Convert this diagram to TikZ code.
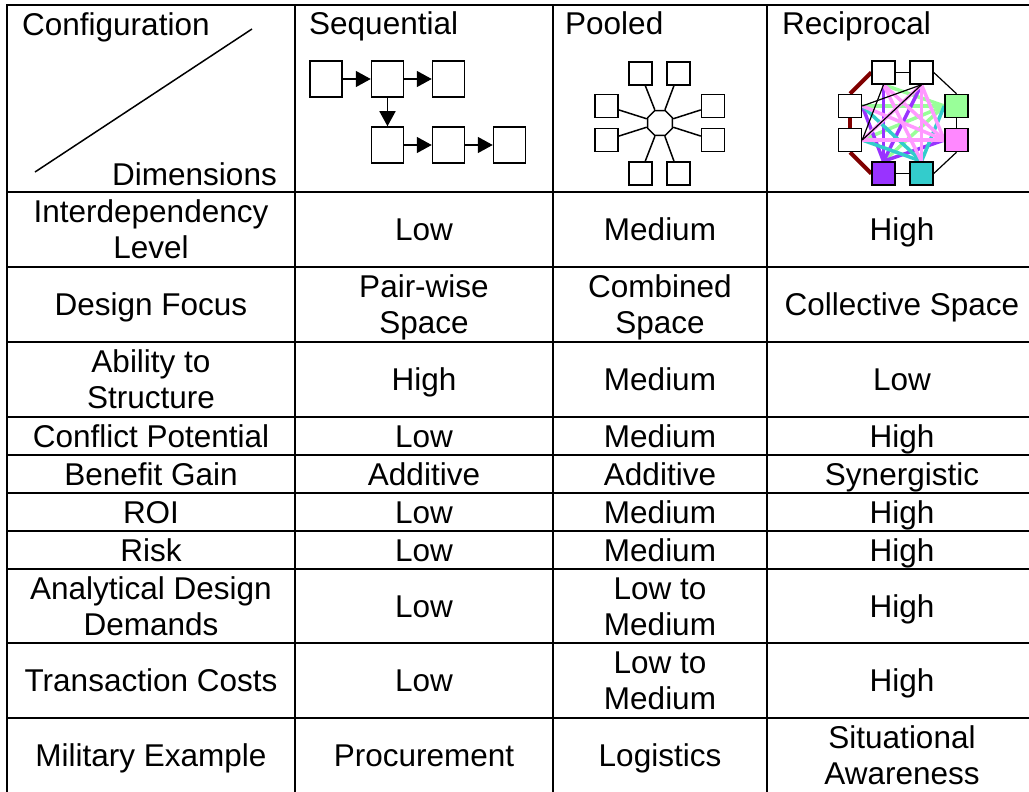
\documentclass[tikz,border=0pt]{standalone}
\usepackage{fontspec}
\setmainfont{Liberation Sans}
\usetikzlibrary{arrows.meta,shapes.geometric,backgrounds}
\definecolor{rgreen}{HTML}{99FF99}
\definecolor{rpink}{HTML}{FF99FF}
\definecolor{rpinkfill}{HTML}{FF88FF}
\definecolor{rpurple}{HTML}{9933FF}
\definecolor{rteal}{HTML}{33CCCC}
\definecolor{rred}{HTML}{800000}
\begin{document}
\begin{tikzpicture}[x=1pt,y=-1pt,
  grid/.style={line width=2pt,black},
  cell/.style={anchor=base,align=center,inner sep=0pt,font=\fontsize{31.5}{36}\selectfont},
  hdr/.style={anchor=base west,inner sep=0pt,font=\fontsize{31.5}{36}\selectfont},
  sbox/.style={draw,line width=1.5pt,minimum width=32pt,minimum height=36pt,inner sep=0pt},
  pbox/.style={draw,line width=1.5pt,fill=white,minimum width=23pt,minimum height=23pt,inner sep=0pt},
  sarrow/.style={line width=1.5pt,-{Triangle[length=15pt,width=16pt]}},
  pline/.style={line width=1.5pt},
  thinl/.style={line width=1.2pt,black},
  redl/.style={line width=4pt,rred},
  thick/.style={line width=3.5pt}
]
\useasboundingbox (0,0) rectangle (1029,792);
\clip (0,0) rectangle (1029,792);
% grid
\draw[grid] (7,5) rectangle (1037,793);
\foreach \yy in {192,267,342,417,455,493,531,569,643,718}{\draw[grid] (7,\yy) -- (1037,\yy);}
\foreach \xx in {295,553,767}{\draw[grid] (\xx,5) -- (\xx,793);}
% header cell 0
\node[hdr] (hconf) at (22,36) {Configuration};
\node[hdr,anchor=base east] (hdim) at (277,185) {Dimensions};
\coordinate (dg1) at (35,172);
\coordinate (dg2) at (252,29);
\draw[line width=1.5pt] (dg1) -- (dg2);
\node[hdr] (hseq) at (309,35) {Sequential};
\node[hdr] (hpool) at (565,35) {Pooled};
\node[hdr] (hrec) at (782,35) {Reciprocal};
% sequential
\node[sbox] (s1) at (326,79) {};
\node[sbox] (s2) at (387.5,79) {};
\node[sbox] (s3) at (448.5,79) {};
\node[sbox] (s4) at (387.5,145) {};
\node[sbox] (s5) at (448.5,145) {};
\node[sbox] (s6) at (509.5,145) {};
\draw[sarrow] (s1) -- (s2);
\draw[sarrow] (s2) -- (s3);
\draw[sarrow] (s2) -- (s4);
\draw[sarrow] (s4) -- (s5);
\draw[sarrow] (s5) -- (s6);
% pooled
\node[draw,line width=1.5pt,regular polygon,regular polygon sides=8,minimum size=27pt,inner sep=0pt] (pc) at (660,123) {};
\node[pbox] (p1) at (640.5,73.5) {};
\node[pbox] (p2) at (678.5,73.5) {};
\node[pbox] (p3) at (606.5,106) {};
\node[pbox] (p4) at (606.5,140) {};
\node[pbox] (p5) at (713,106) {};
\node[pbox] (p6) at (713,140) {};
\node[pbox] (p7) at (640.5,173.5) {};
\node[pbox] (p8) at (678.5,173.5) {};
\foreach \p in {p1,p2,p3,p4,p5,p6,p7,p8}{\draw[pline] (\p) -- (pc);}
% reciprocal
\node[pbox] (T1) at (883.5,72.5) {};
\node[pbox] (T2) at (921.5,72.5) {};
\node[pbox] (L1) at (850,106) {};
\node[pbox] (L2) at (850,140) {};
\node[pbox,fill=rgreen] (R1) at (956.5,106) {};
\node[pbox,fill=rpinkfill] (R2) at (956.5,140) {};
\node[pbox,fill=rpurple] (B1) at (883.5,173.5) {};
\node[pbox,fill=rteal] (B2) at (921.5,173.5) {};
\begin{scope}[on background layer]
% ring
\draw[thinl] (T1.east) -- (T2.west);
\draw[thinl] (T2.east) -- (R1.north);
\draw[thinl] (R1.south) -- (R2.north);
\draw[thinl] (R2.south) -- (B2.east);
\draw[thinl] (B2.west) -- (B1.east);
\draw[redl] (B1.west) -- (L2.south);
\draw[redl] (L2.north) -- (L1.south);
\draw[redl] (L1.north) -- (T1.west);
% inner
\draw[thick,rgreen] (R1.west) -- (T1.south);
\draw[thick,rgreen] (R1.west) -- (L1.east);
\draw[thick,rgreen] (R1.west) -- (L2.east);
\draw[thick,rgreen] (R1.west) -- (B1.north);
\draw[thick,rpurple] (B1.north) -- (T1.south);
\draw[thick,rpurple] (B1.north) -- (T2.south);
\draw[thick,rpurple] (B1.north) -- (L1.east);
\draw[thick,rpurple] (B1.north) -- (R2.west);
\draw[thick,rteal] (B2.north) -- (R1.west);
\draw[thick,rteal] (B2.north) -- (L1.east);
\draw[thick,rteal] (B2.north) -- (L2.east);
\draw[thick,rpink] (R2.west) -- (T1.south);
\draw[thick,rpink] (R2.west) -- (T2.south);
\draw[thick,rpink] (R2.west) -- (L1.east);
\draw[thick,rpink] (R2.west) -- (L2.east);
\draw[thick,rpink] (B2.north) -- (T1.south);
\draw[thick,rpink] (B2.north) -- (T2.south);
\draw[thick,rpink] (T2.south) -- (L2.east);
\draw[thinl] (T1.south) -- (L2.east);
\draw[thinl] (T2.south) -- (L1.east);
\draw[thinl] (T2.south) -- (L2.east);
\end{scope}
% rows
\node[cell] (a1) at (151,258.8) {Interdependency\\Level};
\node[cell] (b1) at (424,240.8) {Low};
\node[cell] (c1) at (660,240.8) {Medium};
\node[cell] (d1) at (902,240.8) {High};
\node[cell] (a2) at (151,315.8) {Design Focus};
\node[cell] (b2) at (424,333.8) {Pair-wise\\Space};
\node[cell] (c2) at (660,333.8) {Combined\\Space};
\node[cell] (d2) at (902,315.8) {Collective Space};
\node[cell] (a3) at (151,408.8) {Ability to\\Structure};
\node[cell] (b3) at (424,390.8) {High};
\node[cell] (c3) at (660,390.8) {Medium};
\node[cell] (d3) at (902,390.8) {Low};
\node[cell] (a4) at (151,447.3) {Conflict Potential};
\node[cell] (b4) at (424,447.3) {Low};
\node[cell] (c4) at (660,447.3) {Medium};
\node[cell] (d4) at (902,447.3) {High};
\node[cell] (a5) at (151,485.3) {Benefit Gain};
\node[cell] (b5) at (424,485.3) {Additive};
\node[cell] (c5) at (660,485.3) {Additive};
\node[cell] (d5) at (902,485.3) {Synergistic};
\node[cell] (a6) at (151,523.3) {ROI};
\node[cell] (b6) at (424,523.3) {Low};
\node[cell] (c6) at (660,523.3) {Medium};
\node[cell] (d6) at (902,523.3) {High};
\node[cell] (a7) at (151,561.3) {Risk};
\node[cell] (b7) at (424,561.3) {Low};
\node[cell] (c7) at (660,561.3) {Medium};
\node[cell] (d7) at (902,561.3) {High};
\node[cell] (a8) at (151,635.3) {Analytical Design\\Demands};
\node[cell] (b8) at (424,617.3) {Low};
\node[cell] (c8) at (660,635.3) {Low to\\Medium};
\node[cell] (d8) at (902,617.3) {High};
\node[cell] (a9) at (151,691.8) {Transaction Costs};
\node[cell] (b9) at (424,691.8) {Low};
\node[cell] (c9) at (660,709.8) {Low to\\Medium};
\node[cell] (d9) at (902,691.8) {High};
\node[cell] (a10) at (151,766.3) {Military Example};
\node[cell] (b10) at (424,766.3) {Procurement};
\node[cell] (c10) at (660,766.3) {Logistics};
\node[cell] (d10) at (902,784.3) {Situational\\Awareness};
\end{tikzpicture}
\end{document}
